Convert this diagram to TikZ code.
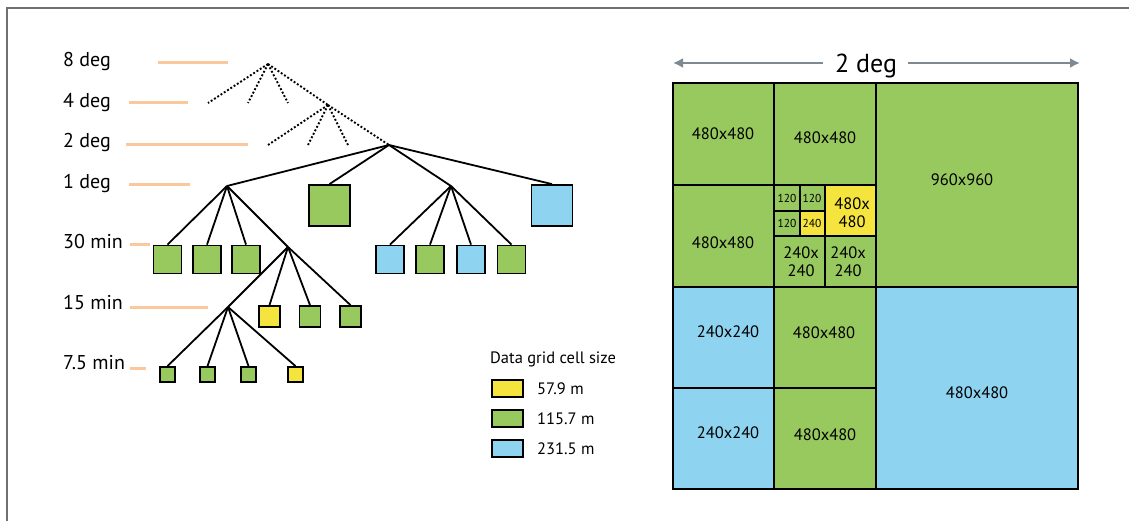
\documentclass[tikz,border=0pt]{standalone}
\usepackage{fontspec}
\setmainfont{PT Sans}
\definecolor{cellgreen}{RGB}{152,201,94}
\definecolor{cellblue}{RGB}{142,211,240}
\definecolor{cellyellow}{RGB}{246,228,62}
\definecolor{levelorange}{RGB}{251,200,158}
\definecolor{arrowgray}{RGB}{125,138,148}
\definecolor{framegray}{RGB}{112,112,112}
\usetikzlibrary{arrows.meta}

\tikzset{
  levelline/.style={levelorange, line width=3pt},
  levellabel/.style={anchor=base west, inner sep=0pt, font=\fontsize{20}{20}\selectfont},
  branch/.style={black, line width=1.8pt},
  dotbranch/.style={black, line width=1.9pt, dash pattern=on 1.9pt off 2pt},
  cell/.style={draw=black, line width=1.8pt, inner sep=0pt, minimum size=#1},
  gridline/.style={black, line width=2.2pt},
  gridlabel/.style={font=\fontsize{16.5}{18}\selectfont, align=center, inner sep=0pt},
  smalllabel/.style={font=\fontsize{11.5}{12}\selectfont, inner sep=0pt},
  legendbox/.style={draw=black, line width=1.8pt, minimum width=31pt, minimum height=17pt, inner sep=0pt},
  legendtext/.style={anchor=west, inner sep=0pt, font=\fontsize{16.5}{16.5}\selectfont},
  spanarrow/.style={arrowgray, line width=2.2pt, -{Latex[length=10pt,width=10pt]}}
}

\begin{document}
\begin{tikzpicture}[x=1pt, y=-1pt]
\useasboundingbox (0,0) rectangle (1129,521);

% --- Frame ---
\draw[framegray, line width=2pt] (7,521) -- (7,8) -- (1129,8);

% --- Level labels and guide lines ---
\node[levellabel] (lab8) at (63,67) {8 deg};
\node[levellabel] (lab4) at (63,108) {4 deg};
\node[levellabel] (lab2) at (63,148) {2 deg};
\node[levellabel] (lab1) at (63,189) {1 deg};
\node[levellabel] (lab30) at (63,249) {30 min};
\node[levellabel] (lab15) at (63,309) {15 min};
\node[levellabel] (lab75) at (63,369) {7.5 min};
\draw[levelline] (158,63) -- (228,63);
\draw[levelline] (129,103) -- (188,103);
\draw[levelline] (126,145) -- (248,145);
\draw[levelline] (129,185) -- (190,185);
\draw[levelline] (130,245) -- (150,245);
\draw[levelline] (130,307) -- (208,307);
\draw[levelline] (130,368) -- (146,368);

% --- Coarse levels (dotted) ---
\coordinate (n8) at (268,64);
\coordinate (n4a) at (208,103);
\coordinate (n4b) at (248,103);
\coordinate (n4c) at (288,103);
\coordinate (n4d) at (328,105);
\coordinate (n2a) at (268,145);
\coordinate (n2b) at (308,145);
\coordinate (n2c) at (348,145);
\coordinate (n2d) at (389,145);
\foreach \c in {n4a,n4b,n4c,n4d} \draw[dotbranch] (n8) -- (\c);
\foreach \c in {n2a,n2b,n2c,n2d} \draw[dotbranch] (n4d) -- (\c);

% --- 1 deg ---
\coordinate (n1a) at (227,186);
\node[cell=41pt, fill=cellgreen] (box1b) at (329.5,205.5) {};
\coordinate (n1c) at (451,186);
\node[cell=41pt, fill=cellblue] (box1d) at (552,205.5) {};
\foreach \c in {n1a,box1b.north,n1c,box1d.north} \draw[branch] (n2d) -- (\c);

% --- 30 min ---
\node[cell=28pt, fill=cellgreen] (box30a) at (167.5,259.5) {};
\node[cell=28pt, fill=cellgreen] (box30b) at (207,259.5) {};
\node[cell=28pt, fill=cellgreen] (box30c) at (246,259.5) {};
\coordinate (n30d) at (288,247);
\node[cell=28pt, fill=cellblue] (box30e) at (390,259.5) {};
\node[cell=28pt, fill=cellgreen] (box30f) at (430,259.5) {};
\node[cell=28pt, fill=cellblue] (box30g) at (471,259.5) {};
\node[cell=28pt, fill=cellgreen] (box30h) at (511.5,259.5) {};
\foreach \c in {box30a.north,box30b.north,box30c.north,n30d} \draw[branch] (n1a) -- (\c);
\foreach \c in {box30e,box30f,box30g,box30h} \draw[branch] (n1c) -- (\c.north);

% --- 15 min ---
\coordinate (n15a) at (228,307);
\node[cell=21pt, fill=cellyellow] (box15b) at (269.5,316.5) {};
\node[cell=21pt, fill=cellgreen] (box15c) at (310,316.5) {};
\node[cell=21pt, fill=cellgreen] (box15d) at (350.5,316.5) {};
\foreach \c in {n15a,box15b.north,box15c.north,box15d.north} \draw[branch] (n30d) -- (\c);

% --- 7.5 min ---
\node[cell=15pt, fill=cellgreen] (box7a) at (167.5,374.5) {};
\node[cell=15pt, fill=cellgreen] (box7b) at (207.5,374.5) {};
\node[cell=15pt, fill=cellgreen] (box7c) at (248.5,374.5) {};
\node[cell=15pt, fill=cellyellow] (box7d) at (295.5,374.5) {};
\foreach \c in {box7a,box7b,box7c,box7d} \draw[branch] (n15a) -- (\c.north);

% --- Legend ---
\node[legendtext] (legtitle) at (490,359) {Data grid cell size};
\node[legendbox, fill=cellyellow] (leg1) at (507.5,388.5) {};
\node[legendbox, fill=cellgreen] (leg2) at (507.5,418.5) {};
\node[legendbox, fill=cellblue] (leg3) at (507.5,448.5) {};
\node[legendtext] (legtext1) at (537,389) {57.9 m};
\node[legendtext] (legtext2) at (537,419) {115.7 m};
\node[legendtext] (legtext3) at (537,449) {231.5 m};

% --- Span arrow ---
\node[anchor=base, inner sep=0pt, font=\fontsize{26}{26}\selectfont] (span) at (866,73) {2 deg};
\coordinate (spanL) at (823,63);
\coordinate (spanLtip) at (673,63);
\coordinate (spanR) at (908,63);
\coordinate (spanRtip) at (1080,63);
\draw[spanarrow] (spanL) -- (spanLtip);
\draw[spanarrow] (spanR) -- (spanRtip);

% --- Cell grid ---
\fill[cellgreen] (673,83) rectangle (1078,287);
\fill[cellblue] (673,287) rectangle (774,489);
\fill[cellgreen] (774,287) rectangle (876,489);
\fill[cellblue] (876,287) rectangle (1078,489);
\fill[cellyellow] (825,185) rectangle (876,236);
\fill[cellyellow] (800,211) rectangle (825,236);
\draw[gridline] (673,83) rectangle (1078,489);
\draw[gridline] (774,83) -- (774,489);
\draw[gridline] (876,83) -- (876,489);
\draw[gridline] (673,287) -- (1078,287);
\draw[gridline] (673,185) -- (876,185);
\draw[gridline] (673,388) -- (876,388);
\draw[gridline] (825,185) -- (825,287);
\draw[gridline] (774,236) -- (876,236);
\draw[gridline] (800,185) -- (800,236);
\draw[gridline] (774,211) -- (825,211);

% --- Cell labels ---
\node[gridlabel] (g1) at (723,134) {480x480};
\node[gridlabel] (g2) at (825,138) {480x480};
\node[gridlabel] (g3) at (962,180) {960x960};
\node[gridlabel] (g4) at (723,243) {480x480};
\node[smalllabel] (g5) at (787,198) {120};
\node[smalllabel] (g6) at (812,198) {120};
\node[smalllabel] (g7) at (787,223) {120};
\node[smalllabel] (g8) at (812,223) {240};
\node[gridlabel] (g9) at (852,213) {480x\\480};
\node[gridlabel] (g10) at (801,262) {240x\\240};
\node[gridlabel] (g11) at (848,262) {240x\\240};
\node[gridlabel] (g12) at (728,332) {240x240};
\node[gridlabel] (g13) at (824,333) {480x480};
\node[gridlabel] (g14) at (728,433) {240x240};
\node[gridlabel] (g15) at (825,435) {480x480};
\node[gridlabel] (g16) at (977,393) {480x480};

\end{tikzpicture}
\end{document}
